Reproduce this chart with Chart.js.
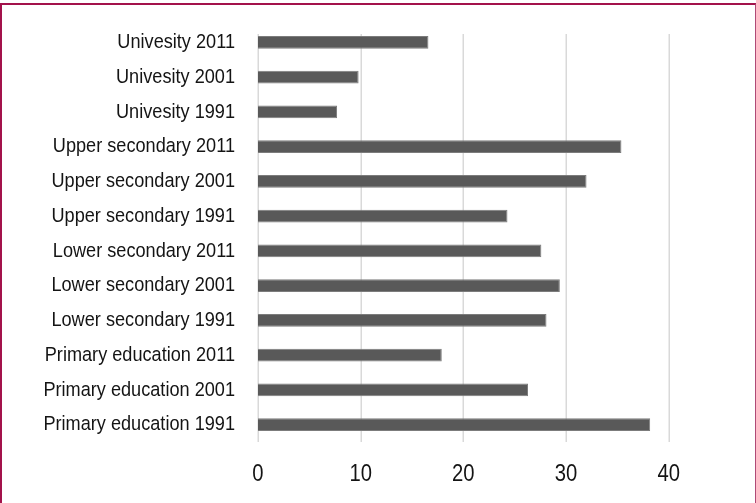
<!DOCTYPE html>
<html>
<head>
<meta charset="utf-8">
<script src="https://cdn.jsdelivr.net/npm/chart.js@4.4.1/dist/chart.umd.min.js"></script>
<style>
  html, body { margin: 0; padding: 0; background: #fff; }
  #wrap { position: relative; width: 756px; height: 503px; overflow: hidden; background: #fff; }
  #chart { position: absolute; left: 0; top: 0; }
  #frame {
    position: absolute; left: 0; top: 3px; width: 756px; height: 540px;
    box-sizing: border-box; border-top: 2px solid #a3124b; border-left: 2px solid #a3124b;
    border-right: 1px solid #b04a76; pointer-events: none;
  }
</style>
</head>
<body>
<div id="wrap">
  <canvas id="chart" width="756" height="503"></canvas>
  <div id="frame"></div>
</div>
<script>
// Education level by census year (%)
const categories = [
  'Univesity 2011', 'Univesity 2001', 'Univesity 1991',
  'Upper secondary 2011', 'Upper secondary 2001', 'Upper secondary 1991',
  'Lower secondary 2011', 'Lower secondary 2001', 'Lower secondary 1991',
  'Primary education 2011', 'Primary education 2001', 'Primary education 1991'
];
const shares = [16.6, 9.8, 7.7, 35.4, 32.0, 24.3, 27.6, 29.4, 28.1, 17.9, 26.3, 38.2];
const tickValues = [0, 10, 20, 30, 40];

const FONT = "'Liberation Sans', Arial, sans-serif";
const TEXT_COLOR = '#141414';

// Draws a string horizontally condensed (narrow face look)
function drawNarrow(ctx, text, x, y, size, squeeze, align) {
  ctx.save();
  ctx.translate(x, y);
  ctx.scale(squeeze, 1);
  ctx.font = size + 'px ' + FONT;
  ctx.fillStyle = TEXT_COLOR;
  ctx.textAlign = align;
  ctx.textBaseline = 'middle';
  ctx.fillText(text, 0, 0);
  ctx.restore();
}

// Vertical grid lines, starting a little below the top of the plot area
const gridLines = {
  id: 'gridLines',
  beforeDatasetsDraw(chart) {
    const { ctx, chartArea, scales } = chart;
    ctx.save();
    ctx.strokeStyle = '#d9d9d9';
    ctx.lineWidth = 1.5;
    tickValues.forEach(v => {
      const x = Math.round(scales.x.getPixelForValue(v)) + 0.25;
      ctx.beginPath();
      ctx.moveTo(x, chartArea.top + 9);
      ctx.lineTo(x, chartArea.bottom);
      ctx.stroke();
    });
    ctx.restore();
  }
};

// Axis labels in a condensed face
const axisLabels = {
  id: 'axisLabels',
  afterDraw(chart) {
    const { ctx, chartArea, scales } = chart;
    scales.y.ticks.forEach((t, i) => {
      const y = scales.y.getPixelForTick(i);
      drawNarrow(ctx, scales.y.getLabelForValue(t.value), chartArea.left - 23, y, 20.5, 0.885, 'right');
    });
    tickValues.forEach(v => {
      const x = scales.x.getPixelForValue(v);
      drawNarrow(ctx, String(v), x, chartArea.bottom + 33, 23, 0.88, 'center');
    });
  }
};

new Chart(document.getElementById('chart'), {
  type: 'bar',
  data: {
    labels: categories,
    datasets: [{
      data: shares,
      backgroundColor: '#595959',
      borderColor: '#7c7c7c',
      borderWidth: 1,
      barPercentage: 0.36,
      categoryPercentage: 1.0
    }]
  },
  options: {
    indexAxis: 'y',
    responsive: false,
    animation: false,
    devicePixelRatio: 1,
    layout: { padding: { top: 25, right: 36, left: 0, bottom: 0 } },
    plugins: { legend: { display: false }, tooltip: { enabled: false } },
    scales: {
      x: {
        min: 0,
        max: 45,
        afterBuildTicks: (axis) => {
          axis.ticks = tickValues.map(v => ({ value: v }));
        },
        afterFit: (axis) => { axis.height = 61; },
        grid: { display: false, drawTicks: false },
        border: { display: false },
        ticks: { display: false }
      },
      y: {
        afterFit: (axis) => { axis.width = 258; },
        grid: { display: false, drawTicks: false },
        border: { display: false },
        ticks: { display: false }
      }
    }
  },
  plugins: [gridLines, axisLabels]
});
</script>
</body>
</html>
